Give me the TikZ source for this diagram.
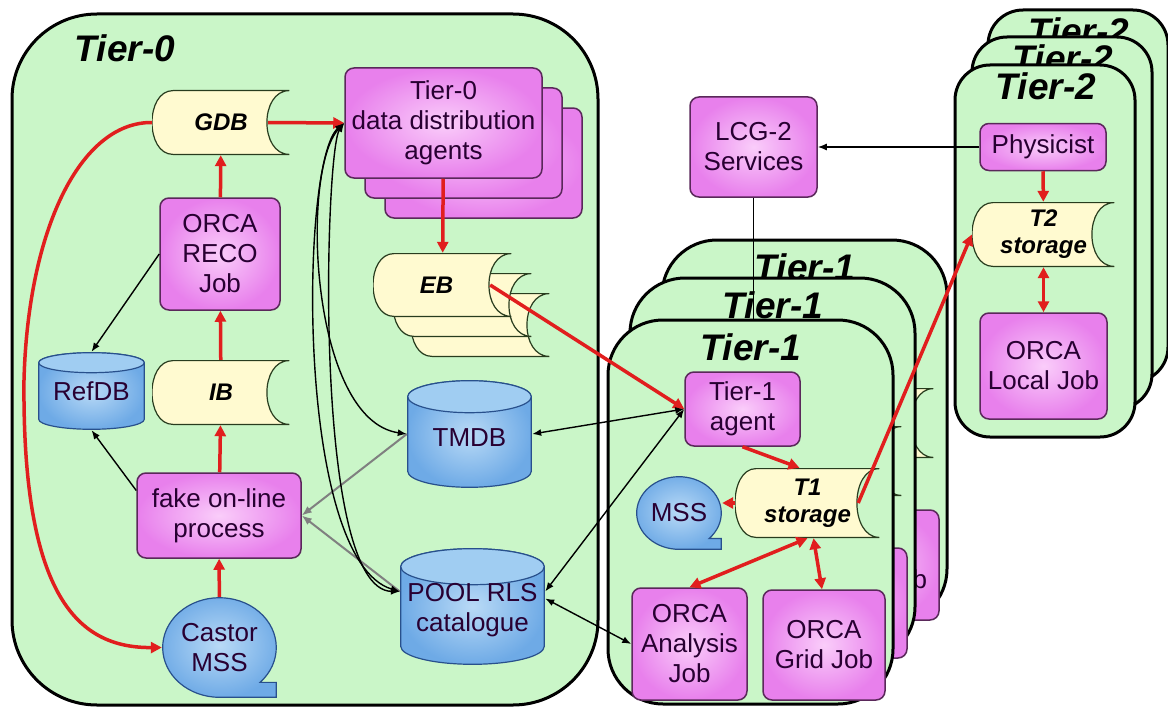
\documentclass[tikz,border=0pt]{standalone}
\usepackage{fontspec}
\setmainfont{Liberation Sans}
\usetikzlibrary{arrows.meta,calc}

\definecolor{tiergreen}{RGB}{202,246,200}
\definecolor{boxin}{RGB}{250,205,250}
\definecolor{boxout}{RGB}{232,128,236}
\definecolor{boxline}{RGB}{90,40,90}
\definecolor{dbin}{RGB}{185,218,246}
\definecolor{dbout}{RGB}{110,170,230}
\definecolor{dbtop}{RGB}{160,205,242}
\definecolor{dbline}{RGB}{40,80,140}
\definecolor{tapefill}{RGB}{255,250,208}
\definecolor{tapeline}{RGB}{40,60,30}
\definecolor{flowred}{RGB}{225,30,30}
\definecolor{textc}{RGB}{40,0,50}

\newcommand{\boxfont}{\fontsize{26}{30}\selectfont}
\newcommand{\titlefont}{\fontsize{37}{40}\selectfont\bfseries\itshape}
\newcommand{\tapefont}{\fontsize{24}{27}\selectfont\bfseries\itshape}

\pgfkeys{/tikz/db ry/.initial=12pt}

\tikzset{
  wh/.style 2 args={minimum width=#1pt, minimum height=#2pt},
  tier/.style={rectangle, draw=black, line width=3pt, fill=tiergreen, rounded corners=#1},
  tier/.default=60pt,
  tiertitle/.style={font=\titlefont, text=black, inner sep=0pt},
  box/.style={rectangle, rounded corners=9pt, draw=boxline, line width=1.5pt,
    inner color=boxin, outer color=boxout, align=center, font=\boxfont, text=textc, inner sep=2pt},
  tape/.style={inner sep=0pt, font=\tapefont, text=black, align=center,
    path picture={
      \path[fill=tapefill, draw=tapeline, line width=1.2pt]
        ([shift={(21pt,-0.6pt)}]path picture bounding box.north west)
        -- ([shift={(-0.6pt,-0.6pt)}]path picture bounding box.north east)
        .. controls +(-30pt,0pt) and +(-30pt,0pt) .. ([shift={(-0.6pt,0.6pt)}]path picture bounding box.south east)
        -- ([shift={(21pt,0.6pt)}]path picture bounding box.south west)
        .. controls +(-28pt,0pt) and +(-28pt,0pt) .. ([shift={(21pt,-0.6pt)}]path picture bounding box.north west)
        -- cycle;
    }},
  dbcyl/.style={inner sep=0pt, font=\boxfont, text=textc, align=center,
    path picture={
      \shadedraw[inner color=dbin, outer color=dbout, draw=dbline, line width=1.2pt]
        let \p1=([shift={(0.7pt,-0.7pt)}]path picture bounding box.north west),
            \p2=([shift={(-0.7pt,0.7pt)}]path picture bounding box.south east),
            \n1={(\x2-\x1)/2}, \n2={\pgfkeysvalueof{/tikz/db ry}}
        in (\x1,\y1-\n2) -- (\x1,\y2+\n2)
           arc[start angle=180, end angle=360, x radius=\n1, y radius=\n2]
           -- (\x2,\y1-\n2)
           arc[start angle=0, end angle=180, x radius=\n1, y radius=\n2] -- cycle;
      \filldraw[fill=dbtop, draw=dbline, line width=1.2pt]
        let \p1=([shift={(0.7pt,-0.7pt)}]path picture bounding box.north west),
            \p2=([shift={(-0.7pt,0.7pt)}]path picture bounding box.south east),
            \n1={(\x2-\x1)/2}, \n2={\pgfkeysvalueof{/tikz/db ry}}
        in (\x1+\n1,\y1-\n2) ellipse[x radius=\n1, y radius=\n2];
    }},
  seqstore/.style={inner sep=0pt, font=\boxfont, text=textc, align=center,
    path picture={
      \shadedraw[inner color=dbin, outer color=dbout, draw=dbline, line width=1.2pt]
        let \p1=([shift={(0.7pt,-0.7pt)}]path picture bounding box.north west),
            \p2=([shift={(-0.7pt,0.7pt)}]path picture bounding box.south east),
            \n1={(\x2-\x1)/2}, \n2={(\y1-\y2)/2}
        in ({\x1+\n1+0.714*\n1},{\y2+0.3*\n2})
           arc[start angle=-44.4, end angle=270, x radius=\n1, y radius=\n2]
           -- (\x2,\y2) -- (\x2,{\y2+0.3*\n2}) -- cycle;
    }},
  flow/.style={draw=flowred, line width=3.5pt, -{Triangle[length=11pt, width=11pt]}},
  flowboth/.style={draw=flowred, line width=3.5pt, {Triangle[length=11pt, width=11pt]}-{Triangle[length=11pt, width=11pt]}},
  ctrl/.style={draw=black, line width=1.4pt, -{Latex[length=9pt, width=7pt]}},
  ctrlboth/.style={draw=black, line width=1.4pt, {Latex[length=9pt, width=7pt]}-{Latex[length=9pt, width=7pt]}},
  grayflow/.style={draw=gray, line width=2pt, -{Latex[length=10pt, width=8pt]}}
}

\begin{document}
\begin{tikzpicture}[x=1pt, y=-1pt]
\useasboundingbox (0,0) rectangle (1168,709);

% Tier-0 site
\node[tier=85pt, wh={586}{691}] (tierzero) at (305,359.5) {};
\node[tiertitle] (tierzerotitle) at (125,48) {Tier-0};

\node[tape, wh={138}{65}] (gdb) at (221,122.5) {GDB};
\node[box, wh={197}{110}] (agentsthree) at (483.5,163) {};
\node[box, wh={197}{110}] (agentstwo) at (463.5,143) {};
\node[box, wh={197}{110}] (agents) at (443.5,123) {Tier-0\\data distribution\\agents};
\node[box, wh={120}{112}] (reco) at (220,254) {ORCA\\RECO\\Job};
\node[tape, wh={139}{64}] (ebthree) at (480.5,325) {};
\node[tape, wh={139}{64}] (ebtwo) at (462.5,305) {};
\node[tape, wh={139}{64}] (eb) at (442.5,285) {EB\hspace*{12pt}};
\node[dbcyl, db ry=10pt, wh={107}{78}] (refdb) at (91.5,391) {RefDB};
\node[tape, wh={138}{65}] (ib) at (221,392.5) {IB};
\node[dbcyl, db ry=16pt, wh={125}{108}] (tmdb) at (469.5,434) {\\[-6pt]TMDB};
\node[box, wh={164}{85}] (fake) at (219,515.5) {fake on-line\\process};
\node[dbcyl, db ry=18pt, wh={145}{117}] (pool) at (472.5,606.5) {\\[-4pt]POOL RLS\\catalogue};
\node[seqstore, wh={115}{101}] (castor) at (219.5,647.5) {Castor\\MSS};

% LCG-2
\node[box, wh={127}{100}] (lcg) at (753.5,147) {LCG-2\\Services};

% Tier-2 sites
\foreach \dx/\dy/\k in {33/-55/c, 17/-28/b, 0/0/a} {
  \node[tier=35pt, wh={180}{372}] (tiertwo\k) at (1045+\dx,251+\dy) {};
  \node[tiertitle] (tiertwotitle\k) at (1046+\dx,86+\dy) {Tier-2};
}
\node[box, wh={126}{47}] (physicist) at (1043,147) {Physicist};
\node[tape, wh={143}{65}] (tstwo) at (1043.5,234.5) {T2\\storage};
\node[box, wh={127}{106}] (localjob) at (1043.5,366) {ORCA\\Local Job};

% Tier-1 sites, back copies first
\foreach \dx/\dy/\k/\on in {54/-80/c/0, 22/-42/b/0, 0/0/a/1} {
  \begin{scope}[shift={(\dx,\dy)}]
    \node[tier=55pt, wh={285}{384}] (tierone\k) at (750.5,512) {};
    \node[tiertitle] (toneTitle\k) at (751,347) {Tier-1};
    \node[box, wh={115}{74}] (agent\k) at (742.5,409) {\ifnum\on=1 Tier-1\\agent\fi};
    \node[tape, wh={145}{70}] (tonestore\k) at (807.5,503) {\ifnum\on=1 T1\\storage\fi};
    \node[seqstore, wh={86}{74}] (mss\k) at (679,513) {\ifnum\on=1 MSS\fi};
    \node[box, wh={115}{112}] (analysis\k) at (689.5,644) {\ifnum\on=1 ORCA\\Analysis\\Job\fi};
    \node[box, wh={122}{110}] (gridjob\k) at (824,645) {ORCA\\Grid Job};
  \end{scope}
}

% data flow
\coordinate (bend) at (24,380);
\draw[flow] (gdb.west) .. controls (80,122) and (28,230) .. (bend)
  .. controls (22,600) and (80,648) .. (castor.west);
\draw[flow] (castor) -- (fake);
\draw[flow] (fake) -- (ib);
\draw[flow] (ib) -- (reco);
\draw[flow] (reco) -- (gdb);
\draw[flow] ([xshift=-22pt]gdb.east) -- (agents.west);
\draw[flow] (agents) -- (eb);
\draw[flow] ([xshift=-22pt]eb.east) -- (agenta.west);
\draw[flow] (agenta.south) -- ([xshift=-8pt]tonestorea.north);
\draw[flow] (tonestorea.west) -- (tonestorea.west -| mssa.east);
\draw[flowboth] (tonestorea.south) -- (analysisa.north);
\draw[flowboth] ([xshift=6pt]tonestorea.south) -- ([xshift=-2pt]gridjoba.north);
\draw[flow] ([xshift=-22pt]tonestorea.east) -- (tstwo.west);
\draw[flow] (physicist) -- (tstwo);
\draw[flowboth] (tstwo) -- (localjob);

% control links
\draw[ctrl] (reco.west) -- (refdb.north);
\draw[ctrl] ([yshift=25pt]fake.west) -- (refdb.south);
\draw[grayflow] (tmdb.west) -- (fake.east);
\draw[grayflow] ([yshift=15pt]pool.west) -- (fake.east);
\draw[ctrlboth] (agents.west) .. controls (300,170) and (310,420) .. (tmdb.west);
\draw[ctrlboth] (agents.west) .. controls (300,160) and (295,560) .. ([yshift=15pt]pool.west);
\draw[ctrlboth] (agents.west) .. controls (325,150) and (312,590) .. ([yshift=15pt]pool.west);
\draw[ctrlboth] (agenta.west) -- (tmdb.east);
\draw[ctrlboth] (agenta.west) -- ([yshift=15pt]pool.east);
\draw[ctrlboth] ([yshift=8pt]pool.east) -- (analysisa.west);
\draw[ctrl] (physicist.west) -- (lcg.east);
\draw[line width=1.4pt] (lcg.south) -- (lcg.south |- tieronea.north);
\end{tikzpicture}
\end{document}
